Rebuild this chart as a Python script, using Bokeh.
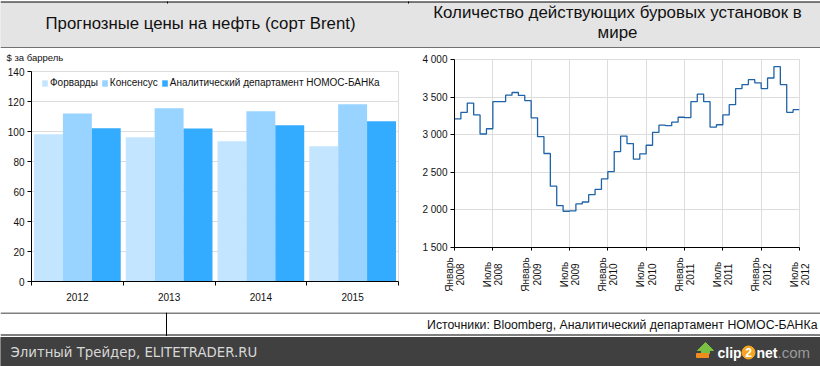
from bokeh.plotting import figure
from bokeh.embed import file_html
from bokeh.resources import INLINE
from bokeh.core.properties import value
from bokeh.transform import dodge
from bokeh.models import ColumnDataSource, FixedTicker, Range1d, Legend, LegendItem

years = ["2012", "2013", "2014", "2015"]
forwards = [98.2, 96.2, 93.5, 90.2]
consensus = [112, 115.5, 113.5, 118.2]
nomos = [102.2, 102, 104.2, 106.9]
series_names = ["Форварды", "Консенсус", "Аналитический департамент НОМОС-БАНКа"]

rigs = [3210, 3298, 3421, 3263, 3009, 3079, 3439, 3439, 3526, 3561, 3522, 3452,
        3224, 2974, 2750, 2316, 2057, 1982, 1987, 2079, 2105, 2202, 2272, 2412,
        2509, 2776, 2982, 2882, 2675, 2746, 2860, 3031, 3127, 3120, 3167, 3232,
        3228, 3439, 3539, 3439, 3101, 3132, 3263, 3399, 3614, 3667, 3732, 3689,
        3614, 3754, 3904, 3667, 3298, 3333]
month_names = ["Январь", "Июль"] * 5
month_years = ["2008", "2008", "2009", "2009", "2010", "2010", "2011", "2011", "2012", "2012"]

title_left = "Прогнозные цены на нефть (сорт Brent)"
title_right = ["Количество действующих буровых установок в", "мире"]
sources = "Источники: Bloomberg, Аналитический департамент НОМОС-БАНКа"
unit = "$ за баррель"
banner = "Элитный Трейдер, ELITETRADER.RU"

FONT = value("Liberation Sans")
GRID = "#dddddd"
W, LW = 820, 410


def place(f, left, top):
    f.styles = {"position": "absolute", "left": f"{left}px", "top": f"{top}px"}
    return f


def pixel_figure(x0, x1, y0, y1):
    f = figure(width=x1 - x0, height=y1 - y0, x_range=Range1d(x0, x1), y_range=Range1d(y1, y0),
               output_backend="svg", toolbar_location=None, min_border=0)
    f.axis.visible = False
    f.grid.visible = False
    f.outline_line_color = None
    return place(f, x0, y0)


# header
hdr = pixel_figure(0, W, 0, 48)
hdr.quad(left=[0], right=[W], top=[2], bottom=[47], color="#e4e4e4")
hdr.segment(x0=[0, 0, 167, 408], y0=[1.5, 47.5, 1, 1], x1=[W, W, 167, 408], y1=[1.5, 47.5, 3, 3],
            line_color="#000000", line_width=1)
hdr.text(x=[200], y=[23], text=[title_left], text_font=FONT, text_font_size="16.8px",
         text_align="center", text_baseline="middle", text_color="#111111")
hdr.text(x=[617, 617], y=[12, 32], text=title_right, text_font=FONT, text_font_size="16.9px",
         text_align="center", text_baseline="middle", text_color="#111111")

# unit caption
cap = pixel_figure(0, 120, 50, 64)
cap.text(x=[6], y=[57], text=[unit], text_font=FONT, text_font_size="9.5px",
         text_baseline="middle", text_color="#111111")

# bars
p1 = place(figure(width=LW, height=264, x_range=Range1d(0, 4), y_range=Range1d(0, 140),
                  output_backend="svg", toolbar_location=None,
                  min_border_left=31, min_border_right=12, min_border_top=23, min_border_bottom=31), 0, 48)
xs = [i + 0.5 for i in range(len(years))]
bar_w = 0.315
src = ColumnDataSource(dict(x=xs, f=forwards, c=consensus, n=nomos))
colors = ["#c4e5ff", "#99d3ff", "#33abff"]
offs = [-bar_w, 0, bar_w]
rs = []
for key, col, off in zip("fcn", colors, offs):
    rs.append(p1.vbar(x=dodge("x", off, range=p1.x_range), top=key, width=bar_w, bottom=0,
                      source=src, color=col, line_color=None))
p1.xgrid.visible = False
p1.ygrid.grid_line_color = GRID
p1.ygrid.ticker = FixedTicker(ticks=list(range(0, 141, 20)))
p1.outline_line_color = GRID
p1.yaxis.ticker = FixedTicker(ticks=list(range(0, 141, 20)))
p1.xaxis.ticker = FixedTicker(ticks=xs, minor_ticks=list(range(0, 5)))
p1.xaxis.major_label_overrides = {x: y for x, y in zip(xs, years)}
p1.xaxis.minor_tick_out = 4
p1.xaxis.minor_tick_in = 0
p1.xaxis.major_label_standoff = 5
p1.yaxis.major_tick_in = 0
p1.yaxis.major_tick_out = 4
p1.yaxis.major_label_standoff = 3
legend = Legend(items=[LegendItem(label=n, renderers=[r]) for n, r in zip(series_names, rs)],
                orientation="horizontal", location=(10, 193), border_line_color=None,
                background_fill_alpha=0, glyph_width=7, glyph_height=8, label_text_font="Liberation Sans",
                label_text_font_size="10px", label_standoff=2, spacing=3, margin=0, padding=4,
                label_text_color="#111111", label_height=8)
p1.add_layout(legend, "center")

# rigs
x_m = list(range(len(rigs) + 1))
tick_x = list(range(0, 55, 6))
p2 = place(figure(width=W - LW, height=204, x_range=Range1d(0, 54), y_range=Range1d(1500, 4000),
                  output_backend="svg", toolbar_location=None,
                  min_border_left=44, min_border_right=21, min_border_top=11, min_border_bottom=5), LW, 48)
p2.step(x_m, rigs + [rigs[-1]], mode="after", line_color="#1f63a8", line_width=1.3)
p2.xaxis.ticker = FixedTicker(ticks=tick_x)
p2.xaxis.major_label_overrides = {x: "" for x in tick_x}
p2.xaxis.major_tick_in = 0
p2.xaxis.major_tick_out = 3
p2.xaxis.major_label_standoff = 0
p2.yaxis.ticker = FixedTicker(ticks=list(range(1500, 4001, 500)))
p2.yaxis.major_label_overrides = {v: f"{v:,}".replace(",", " ") for v in range(1500, 4001, 500)}
p2.yaxis.major_tick_in = 0
p2.yaxis.major_tick_out = 4
p2.yaxis.major_label_standoff = 3
p2.xgrid.ticker = FixedTicker(ticks=tick_x)
p2.ygrid.ticker = FixedTicker(ticks=list(range(1500, 4001, 500)))
p2.grid.grid_line_color = GRID
p2.outline_line_color = GRID

for p in (p1, p2):
    p.axis.axis_line_color = "#000000"
    p.axis.major_tick_line_color = "#000000"
    p.axis.major_label_text_font = "Liberation Sans"
    p.axis.major_label_text_font_size = "10px"
    p.axis.major_label_text_color = "#111111"
    p.axis.minor_tick_line_color = None
p1.xaxis.major_tick_line_color = None
p1.xaxis.minor_tick_line_color = "#000000"

# month labels, on the same month scale as the rig chart but with a frame as wide as its figure
per_px = 54 / 345
strip = place(figure(width=W - LW, height=50, x_range=Range1d(-44 * per_px, 54 + 21 * per_px), y_range=Range1d(50, 0),
                     output_backend="svg", toolbar_location=None, min_border=0), LW, 252)
strip.axis.visible = False
strip.grid.visible = False
strip.outline_line_color = None
strip.text(x=tick_x, y=[22] * 10, text=month_names, x_offset=-5.5, angle=90, angle_units="deg", text_font=FONT,
           text_font_size="10px", text_align="center", text_baseline="middle", text_color="#111111")
strip.text(x=tick_x, y=[22] * 10, text=month_years, x_offset=5.5, angle=90, angle_units="deg", text_font=FONT,
           text_font_size="10px", text_align="center", text_baseline="middle", text_color="#111111")

# footer
ftr = pixel_figure(0, W, 312, 366)
ftr.quad(left=[0], right=[W], top=[337], bottom=[366], color="#404040")
ftr.segment(x0=[0, 0, 166], y0=[312.5, 334.5, 312], x1=[W, W, 166], y1=[312.5, 334.5, 335.5],
            line_color="#000000", line_width=1)
ftr.text(x=[817], y=[324], text=[sources], text_font=FONT, text_font_size="12.3px",
         text_align="right", text_baseline="middle", text_color="#111111")
ftr.text(x=[10], y=[352], text=[banner], text_font=value("DejaVu Sans"), text_font_size="13.3px",
         text_align="left", text_baseline="middle", text_color="#d8d8d8")
# clip2net mark
ftr.patch(x=[697, 705, 713, 709, 709, 701, 701], y=[350, 342, 350, 350, 353, 353, 350], color="#7ac143")
ftr.quad(left=[696], right=[708], top=[353], bottom=[357], color="#f08c1e")
ftr.text(x=[717], y=[352], text=["clip"], text_font=FONT, text_font_style="bold",
         text_font_size="14px", text_baseline="middle", text_color="#ffffff")
ftr.scatter(x=[748], y=[352], size=13, marker="circle", color="#f5a623")
ftr.text(x=[748], y=[352], text=["2"], text_font=FONT, text_font_style="bold",
         text_font_size="12px", text_align="center", text_baseline="middle", text_color="#ffffff")
ftr.text(x=[756], y=[352], text=["net"], text_font=FONT, text_font_style="bold",
         text_font_size="14px", text_baseline="middle", text_color="#ffffff")
ftr.text(x=[777], y=[352], text=[".com"], text_font=FONT,
         text_font_size="15px", text_baseline="middle", text_color="#9a9a9a")

open("out.html", "w").write(file_html((hdr, p1, p2, strip, ftr, cap), INLINE))
